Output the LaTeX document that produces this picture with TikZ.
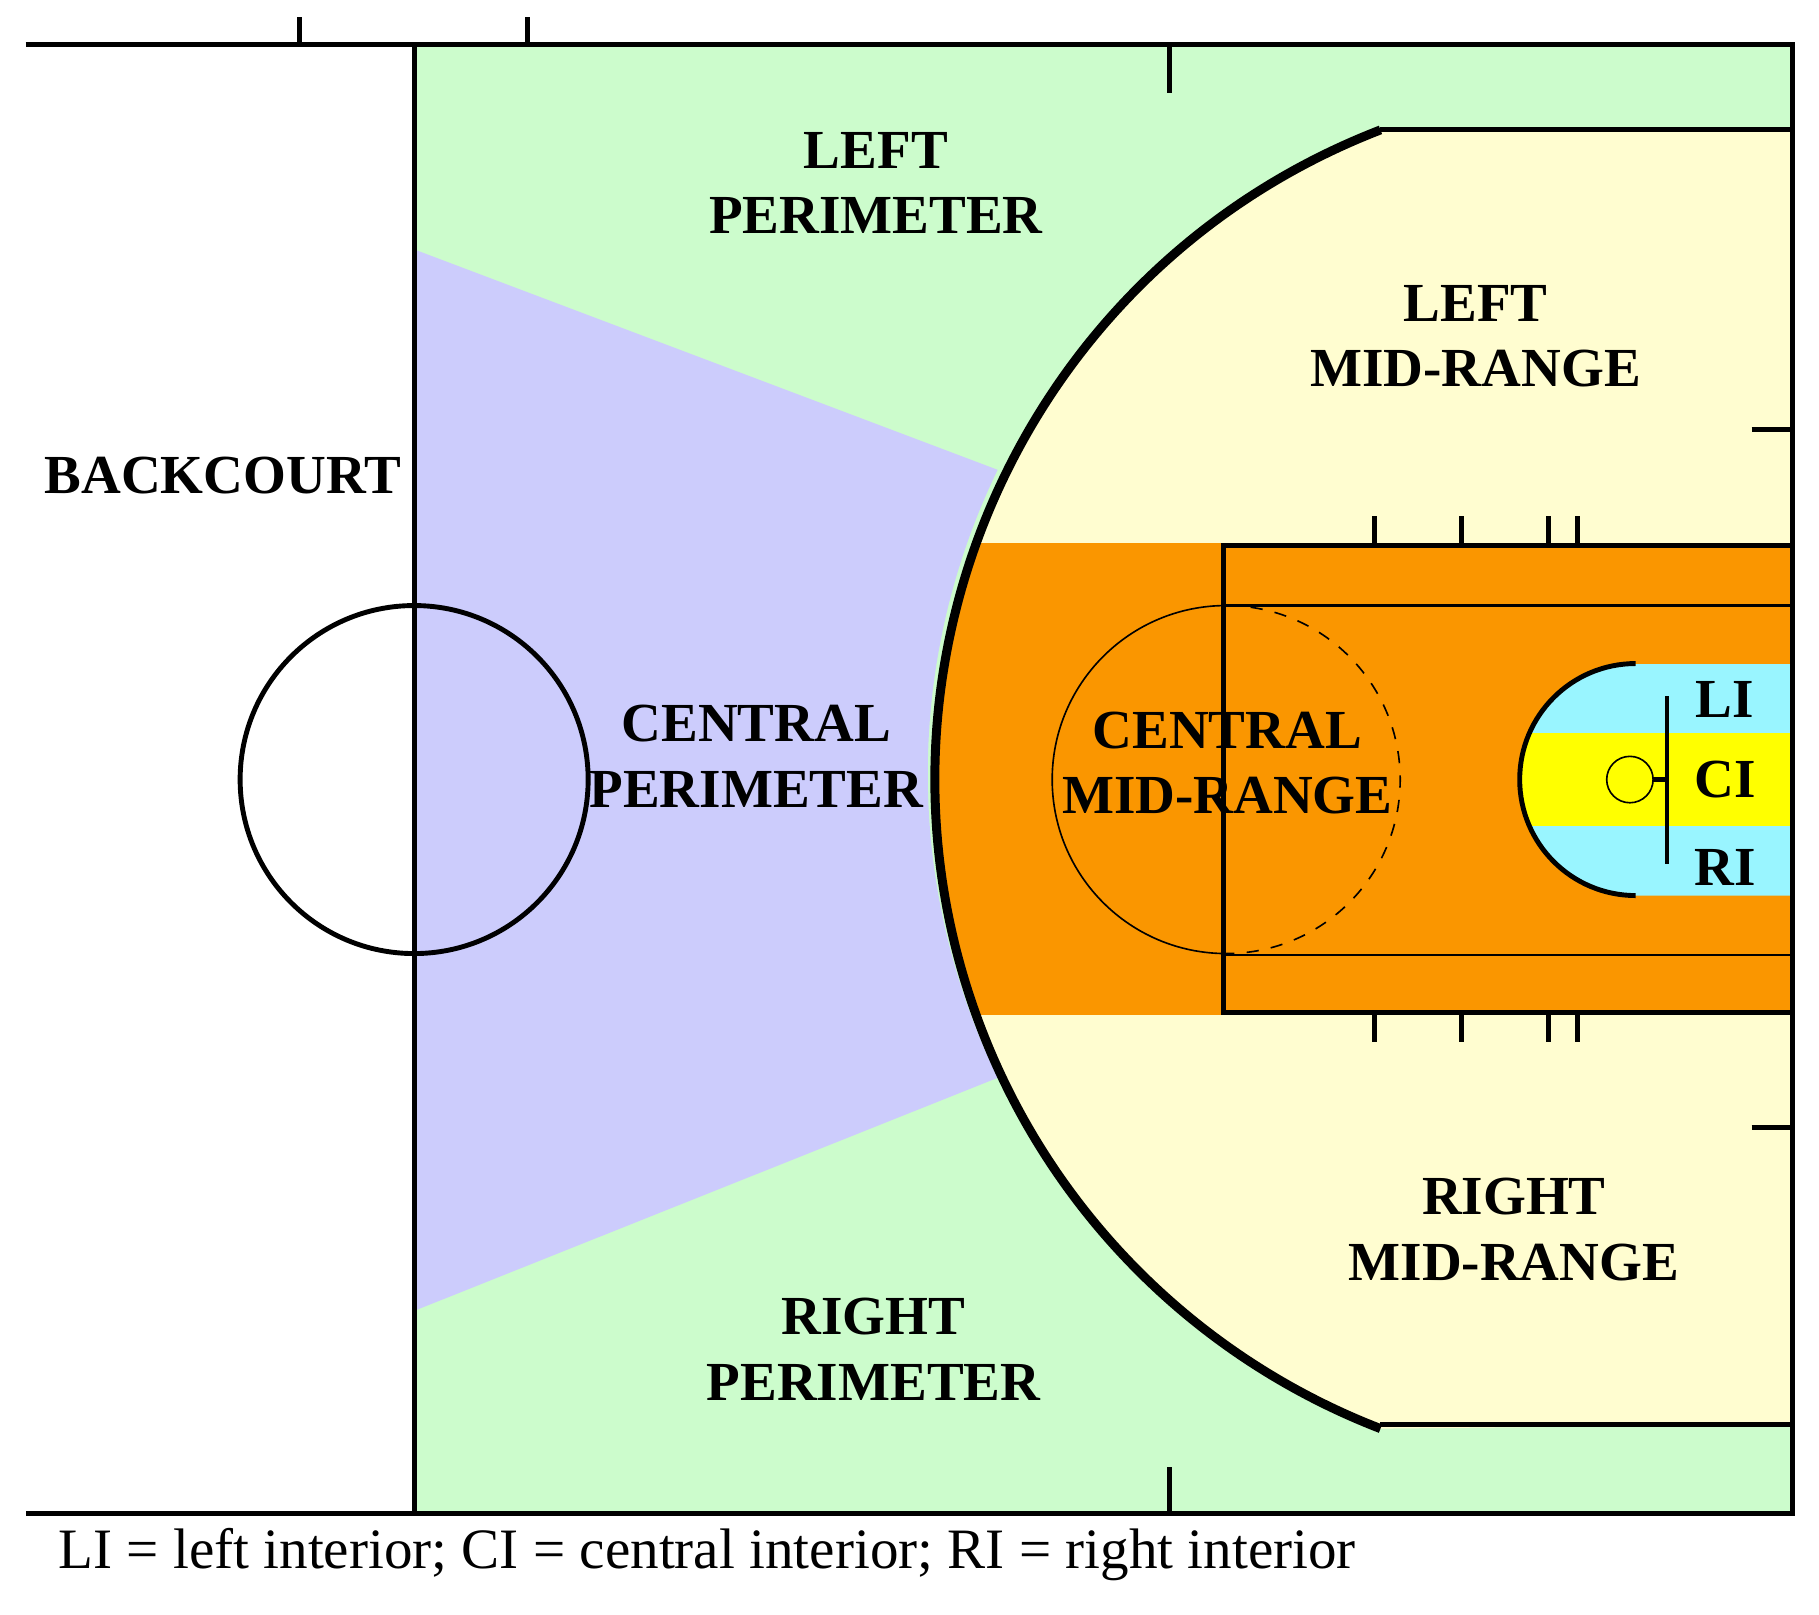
\documentclass[tikz,border=0pt]{standalone}
\usepackage{fontspec}
\setmainfont{Liberation Serif}
\begin{document}
\begin{tikzpicture}[x=0.01cm,y=-0.01cm,
    court/.style={line width=1.2pt},
    zone/.style={font=\fontsize{13.5}{16}\selectfont\bfseries,align=center}]
    \definecolor{perim}{HTML}{CCFCCC}
    \definecolor{cper}{HTML}{CCCCFC}
    \definecolor{mid}{HTML}{FFFDD0}
    \definecolor{paint}{HTML}{FA9600}
    \definecolor{inner}{HTML}{99F5FF}
    \definecolor{cint}{HTML}{FFFF00}
    \useasboundingbox (0,0) rectangle (1568,1392);

    \def \rimx {1405}
    \def \rimy {670}
    \def \threeradius {600}

    % zones
    \fill[perim] (357,38) rectangle (1545,1305);
    \fill[cper] (357,215) -- (860,405) arc (205.9:154.1:\threeradius) -- (357,1130) -- cycle;
    \fill[mid] (1545,112) -- (1190,112) arc (248.9:111.1:\threeradius) -- (1545,1228) -- cycle;
    \begin{scope}
        \clip (\rimx,\rimy) circle (\threeradius);
        \fill[paint] (790,468) rectangle (1545,875);
    \end{scope}
    \begin{scope}
        \clip (1410,572) arc (270:90:100) -- (1545,772) -- (1545,572) -- cycle;
        \fill[inner] (1300,572) rectangle (1545,772);
        \fill[cint] (1300,632) rectangle (1545,712);
    \end{scope}

    % court lines
    \draw[court] (22,38) -- (1545,38) -- (1545,1305) -- (22,1305);
    \draw[court] (357,38) -- (357,1305);
    \foreach \x in {258,455} \draw[court] (\x,15) -- (\x,38);
    \draw[court] (1008,38) -- (1008,80);
    \draw[court] (1008,1265) -- (1008,1305);
    \foreach \y in {370,972} \draw[court] (1510,\y) -- (1545,\y);
    \draw[court] (357,672) circle (150);

    % three point line
    \draw[court] (1545,112) -- (1190,112);
    \draw[court] (1545,1228) -- (1190,1228);
    \draw[line width=2.2pt] (1190,112) arc (248.9:111.1:\threeradius);

    % lane
    \draw[court] (1055,470) rectangle (1545,873);
    \draw[semithick] (1055,522) -- (1545,522);
    \draw[semithick] (1055,823) -- (1545,823);
    \draw[thin] (1057,522) arc (270:90:150);
    \draw[thin,dashed] (1057,522) arc (-90:90:150);
    \foreach \x in {1185,1260,1335,1360}{
        \draw[court] (\x,445) -- (\x,470);
        \draw[court] (\x,873) -- (\x,898);
    }

    % restricted area and basket
    \draw[court] (1410,572) arc (270:90:100);
    \draw[court] (1437,600) -- (1437,745);
    \draw[thin] (1405,672) circle (20);
    \draw[court] (1425,672) -- (1437,672);

    % labels
    \node[zone] (lper) at (755,158) {LEFT\\PERIMETER};
    \node[zone] (lmid) at (1272,290) {LEFT\\MID-RANGE};
    \node[zone] (back) at (192,410) {BACKCOURT};
    \node[zone] (cper) at (652,652) {CENTRAL\\PERIMETER};
    \node[zone] (cmid) at (1058,658) {CENTRAL\\MID-RANGE};
    \node[zone] (li) at (1487,603) {LI};
    \node[zone] (ci) at (1487,672) {CI};
    \node[zone] (ri) at (1487,748) {RI};
    \node[zone] (rmid) at (1305,1060) {RIGHT\\MID-RANGE};
    \node[zone] (rper) at (753,1163) {RIGHT\\PERIMETER};
    \node[anchor=west,font=\fontsize{14}{16}\selectfont] (key) at (38,1340)
        {LI = left interior; CI = central interior; RI = right interior};
\end{tikzpicture}
\end{document}
